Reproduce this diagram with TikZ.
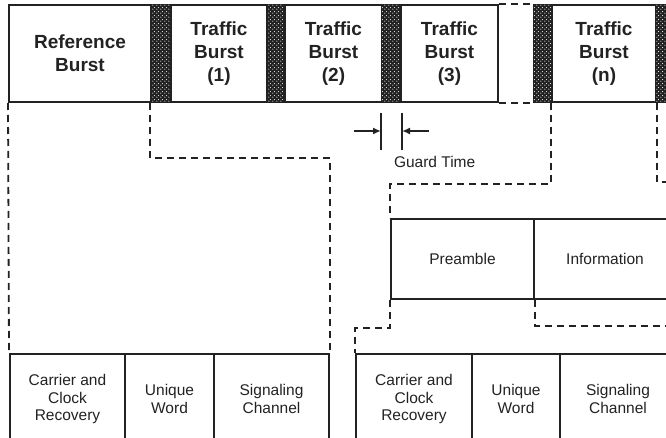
\documentclass[tikz,border=0pt]{standalone}
\usepackage{fontspec}
\setmainfont{Liberation Sans}
\usetikzlibrary{patterns.meta,arrows.meta}
\definecolor{ink}{HTML}{222222}
\tikzdeclarepattern{
  name=guarddots,
  bottom left={(0pt,0pt)}, top right={(4pt,4pt)},
  tile size={(4pt,4pt)},
  code={
    \fill (1pt,1pt) circle (0.65pt);
    \fill (3pt,3pt) circle (0.65pt);
  }
}

\begin{document}
\begin{tikzpicture}[
  x=1pt, y=-1pt, line width=2pt, color=ink,
  burst/.style={draw,anchor=north west,inner sep=0pt,minimum height=97pt,align=center,font=\bfseries\fontsize{19}{23}\selectfont},
  guard/.style={draw,fill=ink,anchor=north west,inner sep=0pt,minimum height=97pt,postaction={pattern=guarddots,pattern color=white}},
  field/.style={draw,anchor=north west,inner sep=0pt,align=center,font=\fontsize{15.5}{17.5}\selectfont},
  link/.style={line width=1.8pt,dash pattern=on 7pt off 5pt},
  tick/.style={-{Latex[length=8pt,width=7pt]}}
]
  \path[use as bounding box,clip] (0,0) rectangle (666,438);
  % frame of bursts
  \node[burst,minimum width=142pt] (ref) at (8,4) {Reference\\Burst};
  \node[guard,minimum width=20pt] (g1) at (150,4) {};
  \node[burst,minimum width=96pt] (t1) at (170,4) {Traffic\\Burst\\(1)};
  \node[guard,minimum width=18pt] (g2) at (266,4) {};
  \node[burst,minimum width=97pt] (t2) at (284,4) {Traffic\\Burst\\(2)};
  \node[guard,minimum width=19pt] (g3) at (381,4) {};
  \node[burst,minimum width=97pt] (t3) at (400,4) {Traffic\\Burst\\(3)};
  \node[guard,minimum width=18pt] (gn) at (533,4) {};
  \node[burst,minimum width=104pt] (tn) at (551,4) {Traffic\\Burst\\(n)};
  \node[guard,minimum width=20pt] (ge) at (655,4) {};
  \draw[link] (t3.north east) -- (gn.north west);
  \draw[link] (t3.south east) -- (gn.south west);
  % guard time
  \draw (g3.south west) ++(0,-10pt) -- ++(0,-37pt);
  \draw (g3.south east) ++(0,-10pt) -- ++(0,-37pt);
  \draw[tick] ([xshift=-27pt,yshift=-28pt]g3.south west) -- ([yshift=-28pt]g3.south west);
  \draw[tick] ([xshift=27pt,yshift=-28pt]g3.south east) -- ([yshift=-28pt]g3.south east);
  \node[anchor=west,inner sep=0pt,font=\fontsize{15.5}{17.5}\selectfont] (gt) at (393,162) {Guard Time};
  % traffic burst
  \node[field,minimum width=143pt,minimum height=80pt] (pre) at (390,218) {Preamble};
  \node[field,minimum width=142pt,minimum height=80pt] (info) at (533,218) {Information};
  % reference burst fields
  \node[field,minimum width=115pt,minimum height=90pt] (ccr1) at (9,353) {Carrier and\\Clock\\Recovery};
  \node[field,minimum width=89pt,minimum height=90pt] (uw1) at (124,353) {Unique\\Word};
  \node[field,minimum width=115pt,minimum height=90pt] (sig1) at (213,353) {Signaling\\Channel};
  % preamble fields
  \node[field,minimum width=116pt,minimum height=90pt] (ccr2) at (355,353) {Carrier and\\Clock\\Recovery};
  \node[field,minimum width=88pt,minimum height=90pt] (uw2) at (471,353) {Unique\\Word};
  \node[field,minimum width=116pt,minimum height=90pt] (sig2) at (559,353) {Signaling\\Channel};
  \coordinate (offa) at (690,182);
  \coordinate (offb) at (690,326);
  \draw[link] (ref.south west) -- (ccr1.north west);
  \draw[link] (g1.south west) -- ++(0,55) -| (sig1.north east);
  \draw[link] (tn.south west) -- ++(0,81) -| (pre.north west);
  \draw[link] (tn.south east) |- (offa);
  \draw[link] (pre.south west) -- ++(0,28) -| (ccr2.north west);
  \draw[link] (pre.south east) |- (offb);
\end{tikzpicture}
\end{document}
